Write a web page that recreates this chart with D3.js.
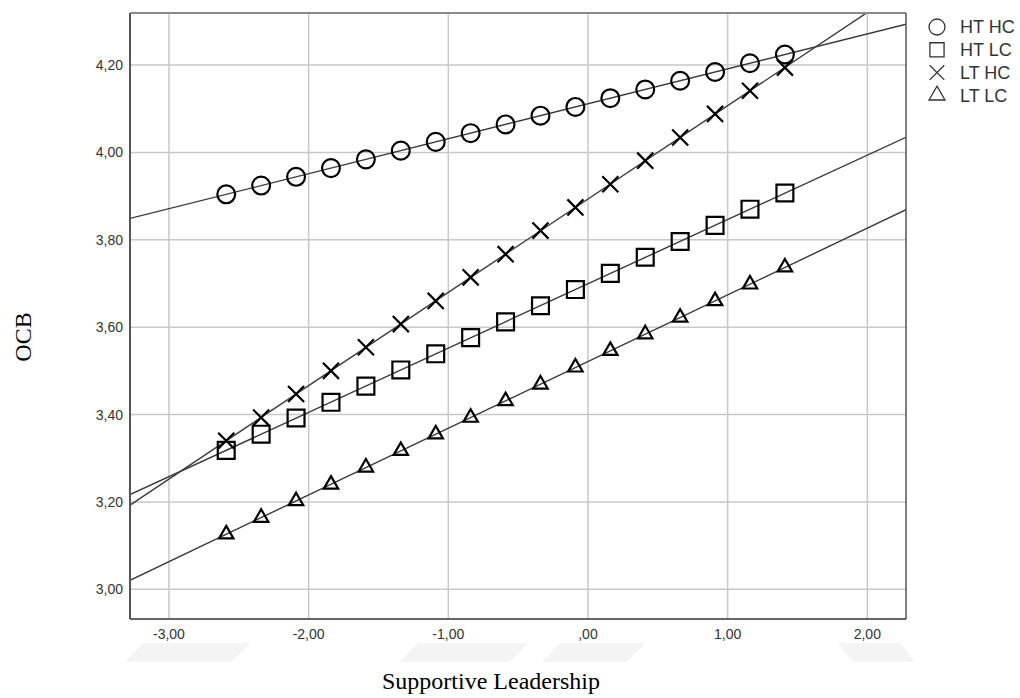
<!DOCTYPE html>
<html>
<head>
<meta charset="utf-8">
<script src="https://cdn.jsdelivr.net/npm/d3@7/dist/d3.min.js"></script>
<style>
  html, body { margin: 0; padding: 0; background: #fff; }
  svg { display: block; }
</style>
</head>
<body>
<svg id="chart" width="1020" height="698"></svg>
<script>
// Supportive Leadership values at which the simple slopes are evaluated
const xValues = [-2.59, -2.34, -2.09, -1.84, -1.59, -1.34, -1.09, -0.84, -0.59,
                 -0.34, -0.09, 0.16, 0.41, 0.66, 0.91, 1.16, 1.41];

// Predicted OCB for each group
const htHc = [3.904, 3.924, 3.944, 3.964, 3.984, 4.004, 4.024, 4.044, 4.064,
              4.084, 4.104, 4.124, 4.144, 4.164, 4.184, 4.204, 4.224];
const htLc = [3.318, 3.355, 3.392, 3.428, 3.465, 3.502, 3.539, 3.576, 3.612,
              3.649, 3.686, 3.723, 3.760, 3.796, 3.833, 3.870, 3.907];
const ltHc = [3.340, 3.393, 3.447, 3.500, 3.554, 3.607, 3.660, 3.714, 3.767,
              3.821, 3.874, 3.927, 3.981, 4.034, 4.088, 4.141, 4.194];
const ltLc = [3.126, 3.164, 3.202, 3.240, 3.279, 3.317, 3.355, 3.393, 3.431,
              3.469, 3.508, 3.546, 3.584, 3.622, 3.660, 3.698, 3.737];

const seriesNames = ["HT HC", "HT LC", "LT HC", "LT LC"];
const seriesValues = [htHc, htLc, ltHc, ltLc];

// Axis ticks and their labels (comma decimals)
const xTicks = [-3, -2, -1, 0, 1, 2];
const xTickLabels = ["-3,00", "-2,00", "-1,00", ",00", "1,00", "2,00"];
const yTicks = [3.0, 3.2, 3.4, 3.6, 3.8, 4.0, 4.2];
const yTickLabels = ["3,00", "3,20", "3,40", "3,60", "3,80", "4,00", "4,20"];

const xTitle = "Supportive Leadership";
const yTitle = "OCB";

const svg = d3.select("#chart");
const plot = { left: 130, right: 906, top: 13, bottom: 619 };

const x = d3.scaleLinear().domain([-3.279, 2.277]).range([plot.left, plot.right]);
const y = d3.scaleLinear().domain([2.932, 4.319]).range([plot.bottom, plot.top]);

// faint background decoration shapes
const deco = [
  [143, 643, 250, 643, 232, 662, 125, 662],
  [418, 643, 528, 643, 510, 662, 400, 662],
  [560, 643, 645, 643, 627, 662, 542, 662],
  [838, 643, 900, 643, 915, 662, 853, 662]
];
svg.append("g").selectAll("polygon").data(deco).join("polygon")
  .attr("points", d => [[d[0], d[1]], [d[2], d[3]], [d[4], d[5]], [d[6], d[7]]].join(" "))
  .attr("fill", "#f4f4f4");

// plot background
svg.append("rect")
  .attr("x", plot.left).attr("y", plot.top)
  .attr("width", plot.right - plot.left).attr("height", plot.bottom - plot.top)
  .attr("fill", "#fff");

// gridlines
const grid = svg.append("g").attr("stroke", "#c8c8c8").attr("stroke-width", 1.5);
grid.selectAll("line.gx").data(xTicks).join("line")
  .attr("x1", d => x(d)).attr("x2", d => x(d))
  .attr("y1", plot.top).attr("y2", plot.bottom);
grid.selectAll("line.gy").data(yTicks).join("line")
  .attr("y1", d => y(d)).attr("y2", d => y(d))
  .attr("x1", plot.left).attr("x2", plot.right);

// clip region for the fitted lines
svg.append("defs").append("clipPath").attr("id", "plotClip")
  .append("rect")
  .attr("x", plot.left).attr("y", plot.top)
  .attr("width", plot.right - plot.left).attr("height", plot.bottom - plot.top);

// least-squares fit of each group, drawn across the full x range
function fit(xs, ys) {
  const mx = d3.mean(xs), my = d3.mean(ys);
  const sxy = d3.sum(xs, (v, i) => (v - mx) * (ys[i] - my));
  const sxx = d3.sum(xs, v => (v - mx) * (v - mx));
  const b = sxy / sxx;
  return { a: my - b * mx, b };
}
const xDom = x.domain();
const lines = svg.append("g").attr("clip-path", "url(#plotClip)");
seriesValues.forEach(vals => {
  const f = fit(xValues, vals);
  const pts = xDom.map(v => [v, f.a + f.b * v]);
  lines.append("path")
    .attr("d", d3.line().x(d => x(d[0])).y(d => y(d[1]))(pts))
    .attr("fill", "none")
    .attr("stroke", "#3a3a3a")
    .attr("stroke-width", 1.4);
});

// markers
const symbolTypes = [d3.symbolCircle, d3.symbolSquare, d3.symbolTimes, d3.symbolTriangle];
const symbolSizes = [250, 285, 170, 90];
const markers = svg.append("g");
seriesValues.forEach((vals, s) => {
  const sym = d3.symbol().type(symbolTypes[s]).size(symbolSizes[s]);
  markers.append("g").selectAll("path").data(vals).join("path")
    .attr("transform", (d, i) => `translate(${x(xValues[i])},${y(d)})`)
    .attr("d", sym)
    .attr("fill", "none")
    .attr("stroke", "#000")
    .attr("stroke-width", 2.2);
});

// frame
const frame = svg.append("g").attr("fill", "none");
frame.append("line").attr("x1", plot.left).attr("x2", plot.right)
  .attr("y1", plot.top).attr("y2", plot.top).attr("stroke", "#8a8a8a").attr("stroke-width", 2);
frame.append("line").attr("x1", plot.right).attr("x2", plot.right)
  .attr("y1", plot.top).attr("y2", plot.bottom).attr("stroke", "#555").attr("stroke-width", 1.5);
frame.append("line").attr("x1", plot.left).attr("x2", plot.left)
  .attr("y1", plot.top).attr("y2", plot.bottom).attr("stroke", "#555").attr("stroke-width", 2);
frame.append("line").attr("x1", plot.left).attr("x2", plot.right)
  .attr("y1", plot.bottom).attr("y2", plot.bottom).attr("stroke", "#333").attr("stroke-width", 1.5);

// tick labels
const tickFont = "'Liberation Sans', Arial, sans-serif";
svg.append("g").selectAll("text").data(xTicks).join("text")
  .attr("x", d => x(d)).attr("y", 639)
  .attr("text-anchor", "middle")
  .attr("font-family", tickFont).attr("font-size", 14).attr("fill", "#333")
  .text((d, i) => xTickLabels[i]);
svg.append("g").selectAll("text").data(yTicks).join("text")
  .attr("x", 123).attr("y", d => y(d))
  .attr("dy", "0.36em")
  .attr("text-anchor", "end")
  .attr("font-family", tickFont).attr("font-size", 14).attr("fill", "#333")
  .text((d, i) => yTickLabels[i]);

// axis titles
const titleFont = "'Liberation Serif', 'Times New Roman', serif";
svg.append("text")
  .attr("x", 491).attr("y", 689)
  .attr("text-anchor", "middle")
  .attr("font-family", titleFont).attr("font-size", 24).attr("fill", "#000")
  .text(xTitle);
svg.append("text")
  .attr("transform", "translate(31,337) rotate(-90)")
  .attr("text-anchor", "middle")
  .attr("font-family", titleFont).attr("font-size", 24).attr("fill", "#000")
  .text(yTitle);

// legend
const legend = svg.append("g");
const legendSizes = [200, 200, 140, 110];
seriesNames.forEach((name, i) => {
  const ly = 27 + i * 22.8;
  legend.append("path")
    .attr("transform", `translate(937,${ly})`)
    .attr("d", d3.symbol().type(symbolTypes[i]).size(legendSizes[i]))
    .attr("fill", "none").attr("stroke", "#333").attr("stroke-width", 1.3);
  legend.append("text")
    .attr("x", 960).attr("y", ly).attr("dy", "0.36em")
    .attr("font-family", tickFont).attr("font-size", 18).attr("fill", "#333")
    .text(name);
});
</script>
</body>
</html>
